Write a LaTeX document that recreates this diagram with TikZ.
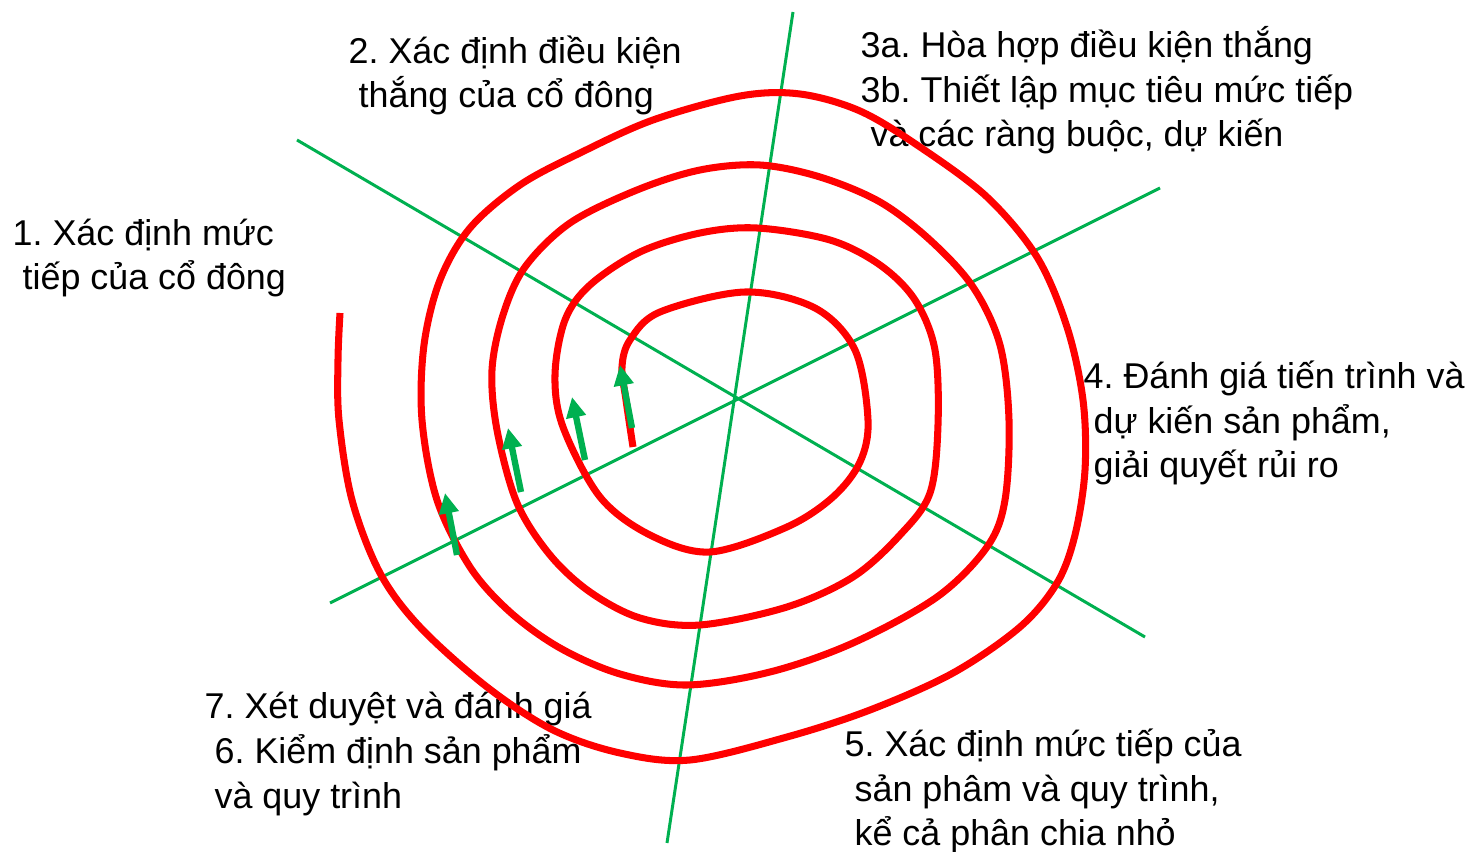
\documentclass[tikz,border=0pt]{standalone}
\usepackage{fontspec}
\setmainfont{Liberation Sans}
\usepackage{tikz}
\usetikzlibrary{arrows.meta}
\definecolor{sred}{RGB}{255,0,0}
\definecolor{sgreen}{RGB}{0,176,80}
\frenchspacing

\begin{document}
\begin{tikzpicture}[x=0.01cm, y=-0.01cm,
        every node/.style={font=\fontsize{10.2}{12.66}\selectfont},
        lbl/.style={anchor=base west, align=left, inner sep=0pt},
        axis/.style={draw=sgreen, line width=0.85pt},
        spiral/.style={draw=sred, line width=2pt},
        garr/.style={draw=sgreen, line width=1.8pt, -{Triangle[width=5.4pt, length=5.8pt]}}]
      \useasboundingbox (0,0) rectangle (1469,852);

      % axes
      \coordinate (a1) at (297,140);  \coordinate (a2) at (1145,637);
      \coordinate (b1) at (793,12);   \coordinate (b2) at (667,843);
      \coordinate (c1) at (330,603);  \coordinate (c2) at (1160,188);
      \draw[axis] (a1) -- (a2);
      \draw[axis] (b1) -- (b2);
      \draw[axis] (c1) -- (c2);

      % labels (base = last line)
      \node[lbl] (lbl1) at (12,290) {1. Xác định mức\\\ tiếp của cổ đông};
      \node[lbl] (lbl2) at (348,108) {2. Xác định điều kiện\\\ thắng của cổ đông};
      \node[lbl] (lbl3) at (860,147) {3a. Hòa hợp điều kiện thắng\\3b. Thiết lập mục tiêu mức tiếp\\\ và các ràng buộc, dự kiến};
      \node[lbl] (lbl4) at (1083,478) {4. Đánh giá tiến trình và\\\ dự kiến sản phẩm,\\\ giải quyết rủi ro};
      \node[lbl] (lbl5) at (844,846) {5. Xác định mức tiếp của\\\ sản phâm và quy trình,\\\ kể cả phân chia nhỏ};
      \node[lbl] (lbl7) at (204,808) {7. Xét duyệt và đánh giá\\\ 6. Kiểm định sản phẩm\\\ và quy trình};

      % spiral
      \draw[spiral] plot[smooth, tension=0.55] coordinates {
        (633,447) (626,400) (622,367) (630,340) (660,312) (745,292) (815,308) (855,350)
        (868,420) (860,462) (833,497) (787,527) (710,552) (650,535) (600,497) (563,427)
        (555,375) (565,320) (590,285) (640,252) (700,233) (757,228) (830,240) (880,265)
        (915,300) (935,350) (938,425) (930,493) (900,535) (853,577) (787,607) (700,625)
        (640,618) (590,592) (550,555) (517,503) (497,430) (492,370) (503,315) (525,267)
        (570,223) (637,190) (700,170) (760,165) (820,177) (880,202) (930,240) (973,287)
        (1000,345) (1009,420) (1005,500) (987,547) (937,597) (853,643) (770,672) (687,685)
        (620,674) (560,648) (510,612) (470,567) (437,500) (422,420) (424,345) (440,280)
        (470,228) (520,185) (580,153) (653,120) (740,96) (800,94) (860,111) (920,147)
        (987,197) (1037,257) (1067,327) (1083,400) (1085,470) (1075,535) (1057,583) (1020,627)
        (953,673) (870,710) (787,737) (690,760) (620,753) (553,730) (487,687) (420,627)
        (380,573) (352,500) (339,420) (338,360) (340,313)};

      % arrows
      \coordinate (t1) at (632,428); \coordinate (h1) at (620,365);
      \coordinate (t2) at (585,460); \coordinate (h2) at (572,397);
      \coordinate (t3) at (521,492); \coordinate (h3) at (508,428);
      \coordinate (t4) at (457,555); \coordinate (h4) at (445,493);
      \draw[garr] (t1) -- (h1);
      \draw[garr] (t2) -- (h2);
      \draw[garr] (t3) -- (h3);
      \draw[garr] (t4) -- (h4);
    \end{tikzpicture}
\end{document}
